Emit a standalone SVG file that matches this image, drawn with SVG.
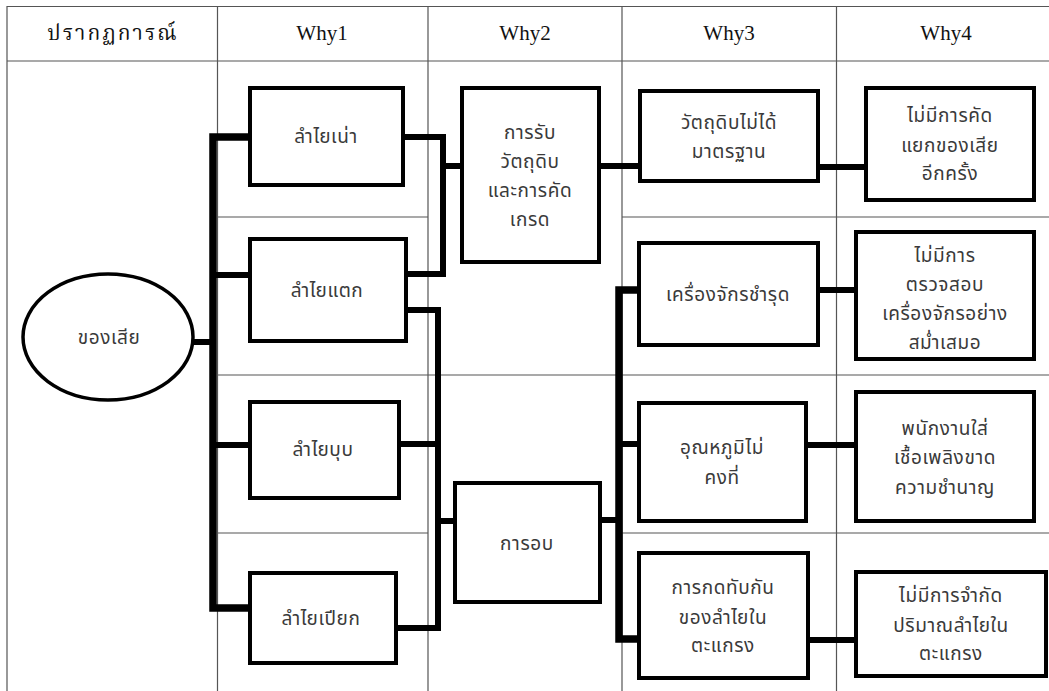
<svg xmlns="http://www.w3.org/2000/svg" width="1049" height="691" viewBox="0 0 1049 691">
<style>
.grid{stroke:#555;stroke-width:1.2;fill:none}
.box{fill:#fff;stroke:#000;stroke-width:4}
.conn{stroke:#000;stroke-width:6;fill:none;stroke-linecap:square;stroke-linejoin:miter}
.trunk{stroke-width:7.5}
.hd{font-family:"Liberation Serif","Noto Serif Thai","Noto Sans Thai","DejaVu Serif",serif;font-size:21px;fill:#111;text-anchor:middle}
.hdth{letter-spacing:2px}
.t{font-family:"Noto Sans Thai","Tahoma","DejaVu Sans","Noto Sans",sans-serif;font-size:19px;letter-spacing:0.6px;fill:#3a3a3a;text-anchor:middle}
</style>
<rect x="0" y="0" width="1049" height="691" fill="#fff"/>
<g id="table">
<path class="grid" d="M7,6.5H1049M7,61H1049M7,6V691M217.5,6V691M428,6V691M622,6V691M836.5,6V691M217,217H428M622,217H1049M217,375H1049M217,533H428M622,533H1049"/>
<text class="hd hdth" x="113" y="40">ปรากฏการณ์</text>
<text class="hd" x="322" y="40">Why1</text>
<text class="hd" x="525" y="40">Why2</text>
<text class="hd" x="729" y="40">Why3</text>
<text class="hd" x="946" y="40">Why4</text>
</g>
<g id="connectors">
<path class="conn trunk" d="M250,137H213V608H250"/>
<path class="conn" d="M193,342H213M213,275H250M213,445H250"/>
<path class="conn" d="M403,137H443V274H406M443,166H462"/>
<path class="conn" d="M406,310H438V628H396M399,444H438M438,521H455"/>
<path class="conn" d="M599,166H640M818,167H866"/>
<path class="conn trunk" d="M639,290H619V639H639"/>
<path class="conn" d="M600,520H619M619,444H639"/>
<path class="conn" d="M818,290H856M806,445H856M808,640H856"/>
</g>
<g id="n-defect">
<ellipse cx="108" cy="337" rx="85" ry="63" fill="#fff" stroke="#000" stroke-width="3.5"/>
<text class="t" x="109" y="344">ของเสีย</text>
</g>
<g id="n-rotten">
<rect class="box" x="250" y="88" width="153" height="97"/>
<text class="t" x="326" y="143">ลำไยเน่า</text>
</g>
<g id="n-cracked">
<rect class="box" x="250" y="239" width="156" height="102"/>
<text class="t" x="327" y="297">ลำไยแตก</text>
</g>
<g id="n-dented">
<rect class="box" x="250" y="402" width="149" height="96"/>
<text class="t" x="323" y="456">ลำไยบุบ</text>
</g>
<g id="n-wet">
<rect class="box" x="250" y="573" width="146" height="90"/>
<text class="t" x="321" y="625">ลำไยเปียก</text>
</g>
<g id="n-receive">
<rect class="box" x="462" y="88" width="137" height="174"/>
<text class="t" x="530" y="139">การรับ</text>
<text class="t" x="530" y="168">วัตถุดิบ</text>
<text class="t" x="530" y="197">และการคัด</text>
<text class="t" x="530" y="226">เกรด</text>
</g>
<g id="n-bake">
<rect class="box" x="455" y="483" width="145" height="119"/>
<text class="t" x="527" y="550">การอบ</text>
</g>
<g id="n-material">
<rect class="box" x="640" y="91" width="178" height="90"/>
<text class="t" x="729" y="129">วัตถุดิบไม่ได้</text>
<text class="t" x="729" y="158">มาตรฐาน</text>
</g>
<g id="n-machine">
<rect class="box" x="639" y="243" width="179" height="102"/>
<text class="t" x="728" y="301">เครื่องจักรชำรุด</text>
</g>
<g id="n-temp">
<rect class="box" x="639" y="403" width="167" height="118"/>
<text class="t" x="722" y="454">อุณหภูมิไม่</text>
<text class="t" x="722" y="484">คงที่</text>
</g>
<g id="n-press">
<rect class="box" x="639" y="553" width="169" height="125"/>
<text class="t" x="723" y="594">การกดทับกัน</text>
<text class="t" x="723" y="624">ของลำไยใน</text>
<text class="t" x="723" y="652">ตะแกรง</text>
</g>
<g id="n-nosort">
<rect class="box" x="866" y="88" width="168" height="112"/>
<text class="t" x="950" y="122">ไม่มีการคัด</text>
<text class="t" x="950" y="152">แยกของเสีย</text>
<text class="t" x="950" y="180">อีกครั้ง</text>
</g>
<g id="n-nocheck">
<rect class="box" x="856" y="232" width="178" height="127"/>
<text class="t" x="945" y="262">ไม่มีการ</text>
<text class="t" x="945" y="291">ตรวจสอบ</text>
<text class="t" x="945" y="320">เครื่องจักรอย่าง</text>
<text class="t" x="945" y="349">สม่ำเสมอ</text>
</g>
<g id="n-staff">
<rect class="box" x="856" y="392" width="178" height="129"/>
<text class="t" x="945" y="435">พนักงานใส่</text>
<text class="t" x="945" y="464">เชื้อเพลิงขาด</text>
<text class="t" x="945" y="494">ความชำนาญ</text>
</g>
<g id="n-nolimit">
<rect class="box" x="856" y="572" width="190" height="104"/>
<text class="t" x="951" y="602">ไม่มีการจำกัด</text>
<text class="t" x="951" y="632">ปริมาณลำไยใน</text>
<text class="t" x="951" y="660">ตะแกรง</text>
</g>
</svg>
